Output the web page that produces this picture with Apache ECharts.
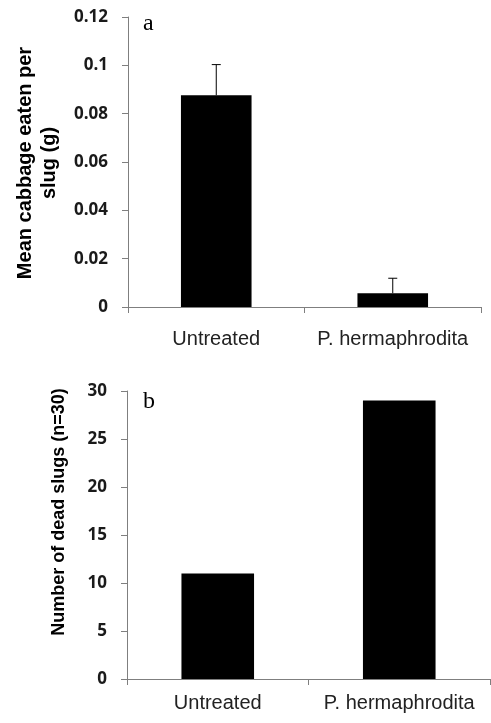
<!DOCTYPE html>
<html>
<head>
<meta charset="UTF-8">
<title>Slug feeding and mortality</title>
<script src="https://cdn.jsdelivr.net/npm/echarts@6/dist/echarts.min.js"></script>
<style>
  * { margin: 0; padding: 0; }
  html, body { width: 491px; height: 723px; background: #fff; }
  #main { width: 491px; height: 723px; }
</style>
</head>
<body>
<div id="main"></div>
<script>
// data
var categories = ['Untreated', 'P. hermaphrodita'];
var eatenMean = [0.0876, 0.0057];
var eatenErr = [0.0127, 0.0062];
var deadSlugs = [11, 29];

var axisGray = '#7f7f7f';
var tickFont = '"Open Sans", sans-serif';
var catFont = '"Liberation Sans", Arial, sans-serif';

function errorBars(api) {
  var x = api.value(0), lo = api.value(1), hi = api.value(2);
  var p0 = api.coord([x, lo]);
  var p1 = api.coord([x, hi]);
  var half = 4.5;
  return {
    type: 'group',
    children: [
      { type: 'line', shape: { x1: p0[0], y1: p0[1], x2: p1[0], y2: p1[1] },
        style: { stroke: '#000', lineWidth: 1 } },
      { type: 'line', shape: { x1: p1[0] - half, y1: p1[1], x2: p1[0] + half, y2: p1[1] },
        style: { stroke: '#000', lineWidth: 1 } }
    ]
  };
}

function xAxisOf(idx, margin) {
  return {
    type: 'category', gridIndex: idx, data: categories,
    axisLine: { lineStyle: { color: axisGray, width: 1 } },
    axisTick: { show: true, length: 6, lineStyle: { color: axisGray } },
    axisLabel: { color: '#222', fontFamily: catFont, fontSize: 20, margin: margin, interval: 0 }
  };
}

function yAxisOf(idx, max, interval) {
  return {
    type: 'value', gridIndex: idx, min: 0, max: max, interval: interval,
    splitLine: { show: false },
    axisLine: { show: true, lineStyle: { color: axisGray, width: 1 } },
    axisTick: { show: true, length: 6, lineStyle: { color: axisGray } },
    axisLabel: { color: '#1a1a1a', fontFamily: tickFont, fontSize: 17, fontWeight: 'bold', margin: 20 }
  };
}

var myChart = echarts.init(document.getElementById('main'));
var option = {
  animation: false,
  grid: [
    { left: 128, top: 17, right: 10, height: 290 },
    { left: 127, top: 391, right: 1, height: 288 }
  ],
  xAxis: [xAxisOf(0, 22), xAxisOf(1, 14)],
  yAxis: [yAxisOf(0, 0.12, 0.02), yAxisOf(1, 30, 5)],
  series: [
    {
      type: 'bar', xAxisIndex: 0, yAxisIndex: 0, data: eatenMean,
      barWidth: '40%', itemStyle: { color: '#000' }
    },
    {
      type: 'custom', xAxisIndex: 0, yAxisIndex: 0,
      data: eatenMean.map(function (m, i) { return [i, m, m + eatenErr[i]]; }),
      renderItem: function (params, api) { return errorBars(api); },
      z: 3
    },
    {
      type: 'bar', xAxisIndex: 1, yAxisIndex: 1, data: deadSlugs,
      barWidth: '40%', itemStyle: { color: '#000' }
    }
  ],
  graphic: [
    {
      type: 'text', x: 37, y: 163, rotation: Math.PI / 2,
      style: {
        text: 'Mean cabbage eaten per\nslug (g)', fill: '#000',
        font: 'bold 20px "Liberation Sans", Arial, sans-serif',
        align: 'center', verticalAlign: 'middle', lineHeight: 24
      }
    },
    {
      type: 'text', x: 59, y: 512, rotation: Math.PI / 2,
      style: {
        text: 'Number of dead slugs (n=30)', fill: '#000',
        font: 'bold 18px "Liberation Sans", Arial, sans-serif',
        align: 'center', verticalAlign: 'middle'
      }
    },
    {
      type: 'text', x: 143, y: 24,
      style: { text: 'a', fill: '#000', font: '24px "Liberation Serif", serif', verticalAlign: 'middle' }
    },
    {
      type: 'text', x: 143, y: 402,
      style: { text: 'b', fill: '#000', font: '24px "Liberation Serif", serif', verticalAlign: 'middle' }
    }
  ]
};
myChart.setOption(option);
</script>
</body>
</html>
